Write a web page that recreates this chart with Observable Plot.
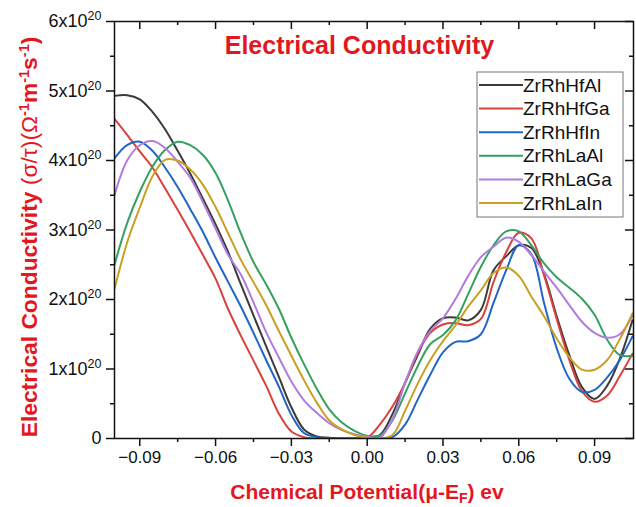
<!DOCTYPE html>
<html><head><meta charset="utf-8">
<script src="https://cdn.jsdelivr.net/npm/d3@7"></script>
<script src="https://cdn.jsdelivr.net/npm/@observablehq/plot@0.6"></script>
<style>body{margin:0;background:#fff;}</style>
</head><body><div id="chart"></div>
<script>
// Chemical potential (μ - E_F), eV
const potential = [-0.100,-0.095,-0.090,-0.085,-0.080,-0.075,-0.070,-0.065,-0.060,-0.055,-0.050,-0.045,-0.040,-0.035,-0.030,-0.025,-0.020,-0.015,-0.010,-0.005,
  0.000,0.005,0.010,0.015,0.020,0.025,0.030,0.035,0.040,0.045,0.050,0.055,0.060,0.065,0.070,0.075,0.080,0.085,0.090,0.095,0.100,0.105];

// σ/τ in units of 1e20 Ω^-1 m^-1 s^-1
const zrRhHfAl = [4.93,4.94,4.88,4.70,4.45,4.14,3.81,3.45,3.08,2.68,2.22,1.77,1.33,0.89,0.45,0.13,0.03,0.01,0.00,0.00,
  0.02,0.05,0.35,0.80,1.20,1.58,1.73,1.74,1.70,1.85,2.42,2.62,2.78,2.74,2.36,1.76,1.20,0.74,0.57,0.76,1.15,1.70];
const zrRhHfGa = [4.60,4.37,4.13,3.90,3.60,3.29,2.97,2.64,2.30,1.86,1.48,1.12,0.76,0.36,0.10,0.02,0.00,0.00,0.00,0.00,
  0.01,0.20,0.46,0.80,1.23,1.52,1.64,1.66,1.63,1.72,2.25,2.68,2.96,2.88,2.35,1.72,1.13,0.68,0.53,0.62,0.90,1.22];
const zrRhHfIn = [4.03,4.22,4.27,4.14,3.90,3.62,3.30,2.97,2.60,2.25,1.90,1.52,1.13,0.75,0.34,0.08,0.02,0.00,0.00,0.00,
  0.00,0.00,0.02,0.20,0.56,0.92,1.24,1.39,1.40,1.50,1.95,2.42,2.78,2.65,1.95,1.30,0.86,0.67,0.70,0.88,1.13,1.47];
const zrRhLaAl = [2.50,3.10,3.55,3.91,4.15,4.27,4.22,4.08,3.82,3.42,2.95,2.54,2.22,1.87,1.45,1.07,0.72,0.42,0.23,0.11,
  0.04,0.04,0.26,0.65,1.04,1.36,1.49,1.70,2.08,2.47,2.78,2.98,2.98,2.78,2.52,2.32,2.17,2.01,1.78,1.42,1.20,1.19];
const zrRhLaGa = [3.50,4.00,4.22,4.28,4.18,3.98,3.75,3.40,3.02,2.64,2.36,1.96,1.53,1.17,0.82,0.55,0.37,0.22,0.12,0.06,
  0.03,0.01,0.28,0.80,1.25,1.55,1.73,2.01,2.34,2.61,2.76,2.89,2.83,2.64,2.40,2.17,1.92,1.68,1.52,1.45,1.50,1.77];
const zrRhLaIn = [2.15,2.82,3.32,3.77,4.01,4.00,3.87,3.65,3.33,2.95,2.57,2.25,1.92,1.55,1.19,0.84,0.52,0.26,0.13,0.05,
  0.01,0.00,0.05,0.40,0.79,1.13,1.40,1.63,1.90,2.13,2.38,2.46,2.34,2.04,1.76,1.44,1.17,0.99,0.99,1.13,1.43,1.80];

const seriesNames = ["ZrRhHfAl","ZrRhHfGa","ZrRhHfIn","ZrRhLaAl","ZrRhLaGa","ZrRhLaIn"];
const seriesValues = [zrRhHfAl, zrRhHfGa, zrRhHfIn, zrRhLaAl, zrRhLaGa, zrRhLaIn];
const seriesColors = ["#3b3b3b","#d9413b","#2166c4","#35a160","#b07ddf","#c9a021"];

const xTicks = [-0.09,-0.06,-0.03,0,0.03,0.06,0.09];
const xMinorTicks = [-0.075,-0.045,-0.015,0.015,0.045,0.075];
const yTicks = [0,1,2,3,4,5,6];
const yMinorTicks = [0.5,1.5,2.5,3.5,4.5,5.5];

const titleText = "Electrical Conductivity";
const red = "#e3171e";

const data = seriesNames.flatMap((name, i) => potential.map((x, j) => ({x, y: seriesValues[i][j], name})));

const W = 636, H = 507, mL = 114, mR = 3, mT = 21, mB = 69;
const plotW = W - mL - mR, plotH = H - mT - mB;

const chart = Plot.plot({
  width: W, height: H, marginLeft: mL, marginRight: mR, marginTop: mT, marginBottom: mB,
  style: {fontFamily: '"Liberation Sans", Arial, sans-serif', fontSize: "17px", color: "#111", background: "white"},
  x: {domain: [-0.1, 0.1054], label: null},
  y: {domain: [0, 6], label: null},
  color: {domain: seriesNames, range: seriesColors},
  marks: [
    Plot.line(data, {x: "x", y: "y", z: "name", stroke: "name", strokeWidth: 2, curve: "catmull-rom", clip: true}),
    Plot.frame({stroke: "#111", strokeWidth: 1.5}),
    Plot.axisX(xTicks, {anchor: "bottom", tickSize: 8, tickPadding: 4, tickFormat: d3.format(".2f"), label: null, strokeWidth: 1.5}),
    Plot.axisX(xMinorTicks, {anchor: "bottom", tickSize: 4, tickFormat: () => "", label: null, strokeWidth: 1.5}),
    Plot.axisY(yTicks, {anchor: "left", tickSize: 8, tickPadding: 5, fontSize: 18, tickFormat: d => d === 0 ? "0" : `${d}x10`, label: null, strokeWidth: 1.5}),
    Plot.axisY(yMinorTicks, {anchor: "left", tickSize: 4, tickFormat: () => "", label: null, strokeWidth: 1.5}),
    Plot.tickX(xTicks, {x: d => d, insetBottom: plotH - 8, stroke: "#111", strokeWidth: 1.5}),
    Plot.tickX(xMinorTicks, {x: d => d, insetBottom: plotH - 4, stroke: "#111", strokeWidth: 1.5}),
    Plot.tickY(yTicks, {y: d => d, insetLeft: plotW - 8, stroke: "#111", strokeWidth: 1.5}),
    Plot.tickY(yMinorTicks, {y: d => d, insetLeft: plotW - 4, stroke: "#111", strokeWidth: 1.5}),
    Plot.text([titleText], {frameAnchor: "top", dx: -14.5, dy: 32, text: d => d, fill: red, fontSize: 25, fontWeight: "bold", lineAnchor: "bottom"})
  ]
});

document.getElementById("chart").appendChild(chart);
const svg = d3.select(chart);

// superscripts on y tick labels
svg.selectAll("text").each(function() {
  const t = this.textContent;
  if (/^\dx10$/.test(t)) {
    d3.select(this).append("tspan").attr("dy", "-7").attr("font-size", "12.5px").text("20");
  }
});

// y-axis label
const yl = svg.append("text")
  .attr("transform", "translate(37,237) rotate(-90)")
  .attr("text-anchor", "middle")
  .attr("fill", red).attr("font-size", "22.8px").attr("font-weight", "bold")
  .attr("font-family", '"Liberation Sans", Arial, sans-serif');
yl.append("tspan").text("Electrical Conductivity ");
yl.append("tspan").attr("font-weight", "normal").text("(σ/τ)(Ω");
yl.append("tspan").attr("dy", "-8").attr("font-size", "14.5px").text("-1");
yl.append("tspan").attr("dy", "8").text("m");
yl.append("tspan").attr("dy", "-8").attr("font-size", "14.5px").text("-1");
yl.append("tspan").attr("dy", "8").text("s");
yl.append("tspan").attr("dy", "-8").attr("font-size", "14.5px").text("-1");
yl.append("tspan").attr("dy", "8").text(")");

// x-axis label
const xl = svg.append("text")
  .attr("x", 367).attr("y", 499)
  .attr("text-anchor", "middle")
  .attr("fill", red).attr("font-size", "21px").attr("font-weight", "bold")
  .attr("font-family", '"Liberation Sans", Arial, sans-serif');
xl.append("tspan").text("Chemical Potential(μ-E");
xl.append("tspan").attr("dy", "4").attr("font-size", "14px").text("F");
xl.append("tspan").attr("dy", "-4").text(") ev");

// legend
const lg = svg.append("g").attr("font-family", '"Liberation Sans", Arial, sans-serif').attr("font-size", "19px");
lg.append("rect").attr("x", 477).attr("y", 72).attr("width", 146).attr("height", 145)
  .attr("fill", "white").attr("stroke", "#777").attr("stroke-width", 1);
seriesNames.forEach((name, i) => {
  const yy = 85 + i * 23.6;
  lg.append("line").attr("x1", 479).attr("x2", 523).attr("y1", yy).attr("y2", yy)
    .attr("stroke", seriesColors[i]).attr("stroke-width", 2);
  lg.append("text").attr("x", 523).attr("y", yy).attr("dy", "0.35em")
    .attr("text-anchor", "start").attr("fill", "#111").text(name);
});
</script>
</body></html>
